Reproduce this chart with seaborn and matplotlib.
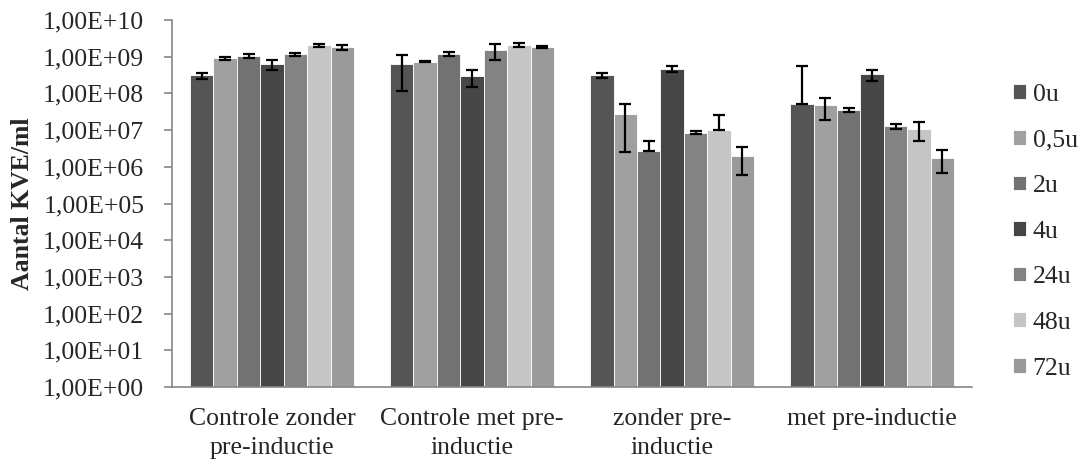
import numpy as np
import pandas as pd
import seaborn as sns
from matplotlib import pyplot as plt
from matplotlib.ticker import FixedLocator, FuncFormatter, NullLocator

groups = ["Controle zonder\npre-inductie", "Controle met pre-\ninductie",
          "zonder pre-\ninductie", "met pre-inductie"]
times = ["0u", "0,5u", "2u", "4u", "24u", "48u", "72u"]

# KVE/ml per time point, one value per group
kve_0u = [3.1e8, 6.2e8, 3.1e8, 5.1e7]
kve_05u = [9.2e8, 7.3e8, 2.7e7, 4.8e7]
kve_2u = [1.05e9, 1.2e9, 2.64e6, 3.6e7]
kve_4u = [6.2e8, 2.94e8, 4.7e8, 3.3e8]
kve_24u = [1.17e9, 1.48e9, 8.5e6, 1.29e7]
kve_48u = [2.05e9, 2.14e9, 1.02e7, 1.07e7]
kve_72u = [1.83e9, 1.86e9, 2.0e6, 1.78e6]

# error bars (upper / lower part as drawn)
err_hi_0u = [0.58e8, 5.0e8, 0.45e8, 5.0e8]
err_lo_0u = [0.58e8, 5.0e8, 0.45e8, 0.0]
err_hi_05u = [0.9e8, 0.3e8, 2.45e7, 2.9e7]
err_lo_05u = [0.9e8, 0.3e8, 2.45e7, 2.9e7]
err_hi_2u = [1.1e8, 1.5e8, 2.5e6, 0.45e7]
err_lo_2u = [1.1e8, 1.5e8, 0.0, 0.45e7]
err_hi_4u = [1.8e8, 1.4e8, 0.75e8, 1.1e8]
err_lo_4u = [1.8e8, 1.4e8, 0.75e8, 1.1e8]
err_hi_24u = [1.1e8, 6.8e8, 0.8e6, 0.2e7]
err_lo_24u = [1.1e8, 6.8e8, 0.8e6, 0.2e7]
err_hi_48u = [1.5e8, 2.5e8, 1.55e7, 0.55e7]
err_lo_48u = [1.5e8, 2.5e8, 0.0, 0.55e7]
err_hi_72u = [2.8e8, 1.5e8, 1.4e6, 1.1e6]
err_lo_72u = [2.8e8, 1.5e8, 1.4e6, 1.1e6]

colors = ["#555555", "#a0a0a0", "#727272", "#464646", "#838383", "#c5c5c5", "#9a9a9a"]

values = [kve_0u, kve_05u, kve_2u, kve_4u, kve_24u, kve_48u, kve_72u]
err_hi = [err_hi_0u, err_hi_05u, err_hi_2u, err_hi_4u, err_hi_24u, err_hi_48u, err_hi_72u]
err_lo = [err_lo_0u, err_lo_05u, err_lo_2u, err_lo_4u, err_lo_24u, err_lo_48u, err_lo_72u]

df = pd.DataFrame({
    "groep": [g for _ in times for g in groups],
    "tijd": [t for t in times for _ in groups],
    "kve": [v for vals in values for v in vals],
})

sns.set_style("white")
plt.rcParams["font.family"] = ["Liberation Serif", "DejaVu Serif"]
fs = 18.5

fig = plt.figure(figsize=(10.85, 4.66), dpi=100)
ax = fig.add_axes([0.1585, 0.1695, 0.7375, 0.7875])
ax.set_yscale("log")

sns.barplot(data=df, x="groep", y="kve", hue="tijd", order=groups, hue_order=times,
            palette=colors, width=0.82, gap=0, errorbar=None,
            edgecolor="white", linewidth=0.6, ax=ax)

# error bars on top of each bar
bar_conts = list(ax.containers)
for i, cont in enumerate(bar_conts):
    xs = [p.get_x() + p.get_width() / 2 for p in cont.patches]
    hs = [p.get_height() for p in cont.patches]
    ax.errorbar(xs, hs, yerr=[err_lo[i], err_hi[i]], fmt="none", ecolor="black",
                elinewidth=1.6, capsize=4.5, capthick=1.6, zorder=5)

ax.set_ylim(1, 1e10)
ax.set_xlim(-0.5, 3.5)
ax.yaxis.set_major_locator(FixedLocator([10.0 ** k for k in range(11)]))
ax.yaxis.set_minor_locator(NullLocator())
ax.yaxis.set_major_formatter(FuncFormatter(lambda v, p: "1,00E+%02d" % round(np.log10(v))))

ax.xaxis.set_minor_locator(FixedLocator([-0.5, 0.5, 1.5, 2.5, 3.5]))
ax.tick_params(axis="x", which="major", length=0, pad=15, labelsize=fs)
ax.tick_params(axis="x", which="minor", length=6, color="#868686", width=1.2, direction="out")
ax.tick_params(axis="y", which="major", length=6, color="#868686", width=1.2, direction="out",
               pad=14, labelsize=fs, left=True)
for lab in ax.get_xticklabels():
    lab.set_linespacing(1.42)

for side in ["top", "right"]:
    ax.spines[side].set_visible(False)
for side in ["left", "bottom"]:
    ax.spines[side].set_color("#868686")
    ax.spines[side].set_linewidth(1.2)

ax.set_xlabel("")
ax.set_ylabel("Aantal KVE/ml", fontsize=fs, fontweight="bold")
ax.yaxis.set_label_coords(-0.172, 0.5)

handles, labels = ax.get_legend_handles_labels()
ax.legend(handles, labels, loc="center left", bbox_to_anchor=(0.934, 0.503),
          bbox_transform=fig.transFigure, frameon=False, fontsize=fs,
          handlelength=0.5, handleheight=0.5, handletextpad=0.25,
          labelspacing=0.92, borderpad=0, borderaxespad=0)

fig.savefig("out.png", dpi=100)
